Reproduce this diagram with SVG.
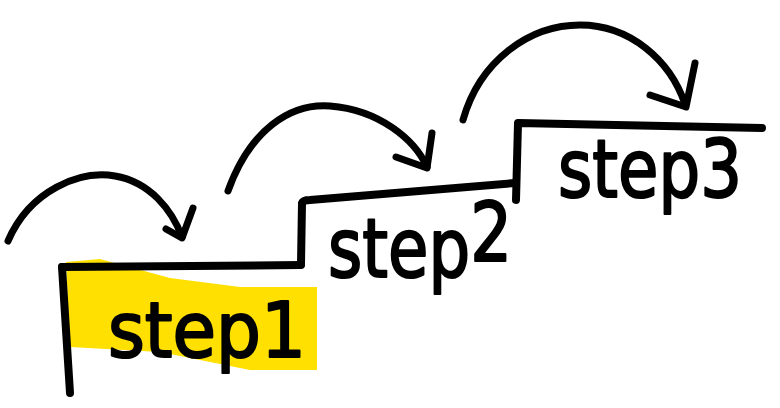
<svg xmlns="http://www.w3.org/2000/svg" width="780" height="408" viewBox="0 0 780 408">
<style>
.ln{fill:none;stroke:#000;stroke-width:8;stroke-linecap:round;stroke-linejoin:round}
.ar{fill:none;stroke:#000;stroke-width:7;stroke-linecap:round;stroke-linejoin:round}
.lb{font-family:"DejaVu Sans",sans-serif;fill:#000;stroke:#000;stroke-width:2.2;stroke-linejoin:round}
</style>
<rect width="780" height="408" fill="#fff"/>
<g id="step1">
<path d="M66,262 L100,259 L170,278 L240,287 L317,287 L317,370 L250,370 L160,352 L70,347 Z" fill="#FFE000"/>
<path class="ln" d="M62,267 L70,393"/>
<path class="ln" d="M62,267 L301,265"/>
<text class="lb" x="108" y="357" font-size="76" textLength="198" lengthAdjust="spacingAndGlyphs">step1</text>
</g>
<g id="step2">
<path class="ln" d="M301,264 L302,203 Q303,200 310,200 L515,183"/>
<text class="lb" x="328" y="277" font-size="82" textLength="184" lengthAdjust="spacingAndGlyphs">step<tspan dy="-16">2</tspan></text>
</g>
<g id="step3">
<path class="ln" d="M516,200 L518,123 L762,128"/>
<text class="lb" x="558" y="197" font-size="80" textLength="184" lengthAdjust="spacingAndGlyphs">step3</text>
</g>
<g id="connectors">
<path class="ar" d="M8,241 C30,190 80,170 115,176 C150,182 172,210 182,237"/>
<path class="ar" d="M193,208 L182,238 L166,229"/>
<path class="ar" d="M228,191 C250,130 290,103 330,106 C380,110 415,140 427,167"/>
<path class="ar" d="M432,133 L427,168 L396,157"/>
<path class="ar" d="M463,120 C480,60 530,25 580,25 C630,25 670,60 685,104"/>
<path class="ar" d="M695,63 L686,107 L650,95"/>
</g>
</svg>
